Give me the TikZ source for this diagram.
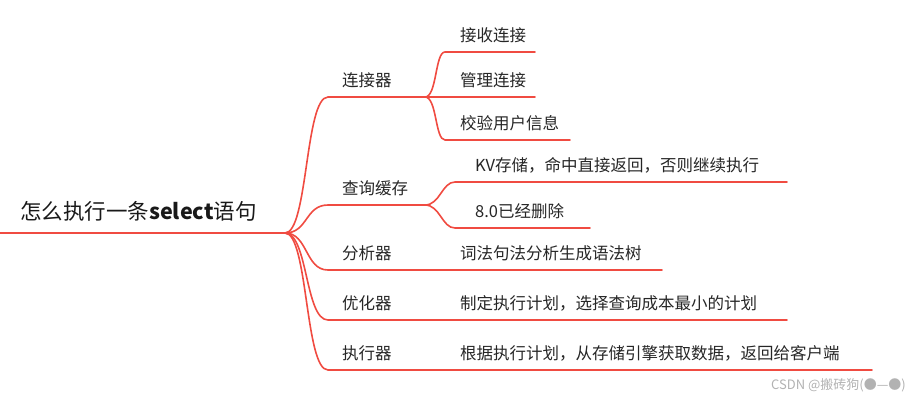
\documentclass[tikz,border=0pt]{standalone}
\usepackage{fontspec}
\newfontfamily\cjk{Noto Sans CJK SC}
\definecolor{mm}{RGB}{240,75,65}
\begin{document}
\begin{tikzpicture}[x=1pt,y=-1pt,
  br/.style={draw=mm,line width=1.6pt,line cap=round},
  lbl/.style={font=\cjk\fontsize{16.5}{18}\selectfont,text=black!85,anchor=south west,inner sep=0pt,yshift=9pt},
  root/.style={font=\cjk\fontsize{21.5}{24}\selectfont,text=black!90,anchor=south west,inner sep=0pt,yshift=11pt}]
\useasboundingbox (0,0) rectangle (911,400);
% root
\coordinate (r0) at (0,233); \coordinate (r1) at (285,233);
\node[root] (root) at (20,233) {怎么执行一条\textbf{select}语句};
\draw[br] (r0) -- (r1);
% level 1
\foreach \n/\y/\e/\t in {a/97/425/连接器, b/205/425/查询缓存, c/270/440/分析器, d/320/440/优化器, e/370/440/执行器}{
  \coordinate (\n s) at (328,\y); \coordinate (\n e) at (\e,\y);
  \node[lbl] (\n) at (342,\y) {\t};
  \draw[br] (r1) .. controls (308,233) and (305,\y) .. (\n s) -- (\n e);
}
% level 2 under 连接器
\foreach \n/\y/\e/\t in {a1/52/535/接收连接, a2/97/535/管理连接, a3/140/570/校验用户信息}{
  \coordinate (\n s) at (445,\y); \coordinate (\n e) at (\e,\y);
  \node[lbl] (\n) at (460,\y) {\t};
  \draw[br] (ae) .. controls (437,97) and (435,\y) .. (\n s) -- (\n e);
}
% level 2 under 查询缓存
\foreach \n/\y/\e/\t in {b1/182/787/KV存储，命中直接返回，否则继续执行, b2/228/590/8.0已经删除}{
  \coordinate (\n s) at (455,\y); \coordinate (\n e) at (\e,\y);
  \node[lbl] (\n) at (475,\y) {\t};
  \draw[br] (be) .. controls (440,205) and (442,\y) .. (\n s) -- (\n e);
}
% straight children
\foreach \n/\y/\e/\t in {c1/270/662/词法句法分析生成语法树, d1/320/787/制定执行计划，选择查询成本最小的计划, e1/370/872/根据执行计划，从存储引擎获取数据，返回给客户端}{
  \coordinate (\n e) at (\e,\y);
  \node[lbl] (\n) at (460,\y) {\t};
}
\draw[br] (ce) -- (c1e);
\draw[br] (de) -- (d1e);
\draw[br] (ee) -- (e1e);
\node[font=\cjk\fontsize{13}{14}\selectfont,text=black!30,anchor=east,inner sep=0pt] (wm) at (906,385) {CSDN @搬砖狗(●—●)};
\end{tikzpicture}
\end{document}
